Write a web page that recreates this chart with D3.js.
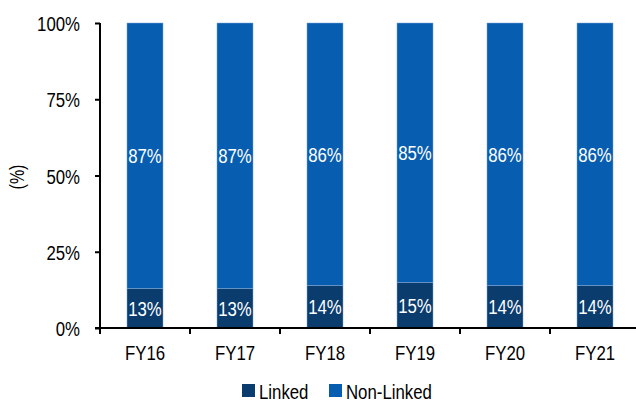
<!DOCTYPE html>
<html><head><meta charset="utf-8">
<script src="https://cdn.jsdelivr.net/npm/d3@7"></script>
<style>
body{margin:0;background:#fff;}
text{font-family:"Liberation Sans","Arial",sans-serif;}
</style></head>
<body>
<svg id="c" width="636" height="405"></svg>
<script>
const categories = ["FY16","FY17","FY18","FY19","FY20","FY21"];
const linked = [13,13,14,15,14,14];
const nonLinked = [87,87,86,85,86,86];
const yTicks = [0,25,50,75,100];
const seriesNames = ["Linked","Non-Linked"];
const colors = ["#0A3C6E","#075DB0"];

const NS = 0.8; // horizontal condensing to emulate a narrow face
function narrow(sel){
  sel.each(function(){
    const t = d3.select(this);
    const x0 = +(t.attr("x")||0);
    t.attr("x", x0/NS).attr("transform", `scale(${NS},1)`);
  });
}

const svg = d3.select("#c");
const mLeft = 100, mRight = 640, mTop = 23, mBottom = 328;
const x = d3.scaleBand().domain(categories).range([mLeft,mRight]).paddingInner(0.6).paddingOuter(0.3);
const y = d3.scaleLinear().domain([0,100]).range([mBottom,mTop]);

const data = categories.map((c,i)=>({cat:c, Linked:linked[i], "Non-Linked":nonLinked[i]}));
const stack = d3.stack().keys(seriesNames)(data);

const g = svg.append("g");
stack.forEach((s,si)=>{
  g.selectAll(null).data(s).enter().append("rect")
    .attr("x", d=>x(d.data.cat))
    .attr("width", x.bandwidth())
    .attr("y", d=>y(d[1]))
    .attr("height", d=>y(d[0])-y(d[1]))
    .attr("fill", colors[si])
    .attr("stroke","#7fa6d6").attr("stroke-width",0.5);
  g.selectAll(null).data(s).enter().append("text")
    .attr("x", d=>x(d.data.cat)+x.bandwidth()/2)
    .attr("y", d=>y((d[0]+d[1])/2))
    .attr("dy","0.36em")
    .attr("text-anchor","middle")
    .attr("fill","#fff")
    .attr("font-size",21)
    .text(d=>(d[1]-d[0])+"%")
    .call(narrow);
});

// y axis
const ya = svg.append("g").attr("transform",`translate(${mLeft},0)`)
  .call(d3.axisLeft(y).tickValues(yTicks).tickFormat(d=>d+"%").tickSize(5).tickPadding(15));
ya.select(".domain").attr("stroke","#000").attr("stroke-width",2).attr("d",`M0,${mTop}V${mBottom}`);
ya.selectAll(".tick line").attr("stroke","#000").attr("stroke-width",2);
ya.selectAll(".tick text").attr("font-size",21).attr("fill","#000").attr("font-family",null).attr("dy","0.36em").call(narrow);

// x axis
const xa = svg.append("g").attr("transform",`translate(0,${mBottom})`)
  .call(d3.axisBottom(x).tickSize(0).tickPadding(24));
xa.select(".domain").attr("stroke","#000").attr("stroke-width",2).attr("d",`M${mLeft-5},0H636`);
xa.selectAll(".tick text").attr("font-size",21).attr("fill","#000").attr("font-family",null).attr("dy","0.36em").call(narrow);
const step = x.step();
const bounds = d3.range(categories.length).map(i=>mLeft+i*step);
xa.selectAll(".bt").data(bounds).enter().append("line")
  .attr("x1",d=>d).attr("x2",d=>d).attr("y1",0).attr("y2",6)
  .attr("stroke","#000").attr("stroke-width",2);

// y title
svg.append("text").attr("transform",`translate(17,177) rotate(-90) scale(${NS},1)`)
  .attr("text-anchor","middle").attr("dy","0.36em").attr("font-size",20).text("(%)");

// legend
const lg = svg.append("g").attr("transform","translate(242,384)");
const lx = [0,87];
seriesNames.forEach((n,i)=>{
  lg.append("rect").attr("x",lx[i]).attr("y",0).attr("width",13).attr("height",13).attr("fill",colors[i]);
  lg.append("text").attr("x",lx[i]+17).attr("y",7).attr("dy","0.36em").attr("font-size",21).text(n).call(narrow);
});
</script>
</body></html>
